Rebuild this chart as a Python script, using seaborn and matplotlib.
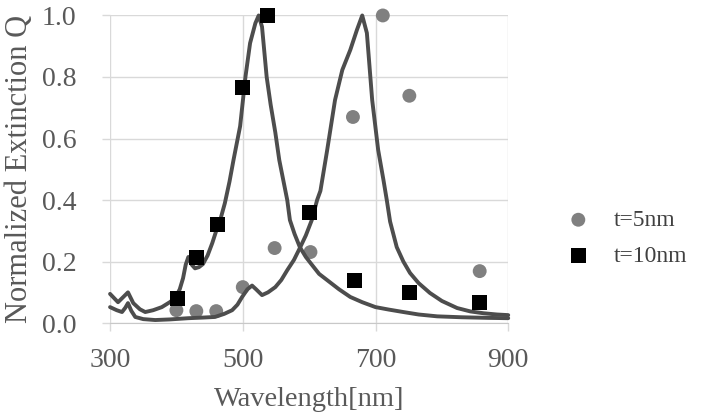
import numpy as np
import pandas as pd
import matplotlib
matplotlib.use("Agg")
import matplotlib.pyplot as plt
import seaborn as sns

# 计算曲线 (t=10nm)，峰值约 525nm
wl_10 = [300, 312, 320, 327, 335, 345, 353, 365, 378, 390, 398, 405, 410, 414, 418,
         423, 428, 434, 440, 447, 454, 460, 466, 473, 480, 486, 496, 500, 504, 511,
         519, 524, 529, 536, 542, 549, 555, 561, 567, 571, 578, 586, 595, 604, 615,
         627, 645, 662, 680, 700, 720, 742, 765, 793, 830, 870, 900]
q_10 = [0.095, 0.068, 0.085, 0.10, 0.065, 0.045, 0.036, 0.042, 0.052, 0.068, 0.081,
        0.11, 0.146, 0.19, 0.215, 0.19, 0.178, 0.182, 0.192, 0.22, 0.26, 0.30, 0.335,
        0.39, 0.46, 0.53, 0.64, 0.72, 0.80, 0.91, 0.975, 1.0, 0.963, 0.80, 0.71, 0.62,
        0.53, 0.465, 0.40, 0.335, 0.29, 0.247, 0.215, 0.19, 0.16, 0.14, 0.11, 0.085,
        0.068, 0.052, 0.044, 0.036, 0.028, 0.022, 0.019, 0.017, 0.016]

# 计算曲线 (t=5nm)，峰值约 680nm
wl_5 = [300, 310, 318, 323, 327, 332, 338, 350, 368, 390, 418, 440, 458, 472, 484,
        492, 499, 507, 514, 520, 529, 538, 549, 558, 567, 577, 586, 595, 604, 612,
        617, 627, 639, 650, 662, 672, 680, 687, 695, 704, 712, 717, 722, 732, 742,
        752, 765, 782, 800, 823, 843, 863, 883, 900]
q_5 = [0.052, 0.042, 0.036, 0.05, 0.065, 0.04, 0.02, 0.013, 0.01, 0.012, 0.016, 0.018,
       0.02, 0.03, 0.042, 0.06, 0.085, 0.11, 0.122, 0.11, 0.091, 0.10, 0.117, 0.14,
       0.172, 0.205, 0.244, 0.285, 0.335, 0.40, 0.43, 0.56, 0.725, 0.823, 0.888, 0.953,
       1.0, 0.943, 0.725, 0.563, 0.465, 0.40, 0.33, 0.247, 0.20, 0.163, 0.13, 0.098,
       0.072, 0.049, 0.038, 0.032, 0.028, 0.026]

# 实验点
exp_wl_5 = [400, 430, 460, 500, 548, 602, 666, 711, 751, 857]
exp_q_5 = [0.042, 0.039, 0.039, 0.117, 0.244, 0.231, 0.67, 1.0, 0.739, 0.169]
exp_wl_10 = [401, 430, 462, 500, 537, 601, 668, 751, 857]
exp_q_10 = [0.081, 0.212, 0.322, 0.767, 1.0, 0.361, 0.137, 0.10, 0.068]

x_ticks = [300, 500, 700, 900]
y_ticks = [0.0, 0.2, 0.4, 0.6, 0.8, 1.0]

sns.set_style("white")
plt.rcParams['font.family'] = ['Liberation Serif', 'DejaVu Serif']

fig = plt.figure(figsize=(7.01, 4.18), dpi=100)
ax = fig.add_axes([0.157, 0.227, 0.568, 0.736])

line_color = '#4d4d4d'
df_5 = pd.DataFrame({'wl': wl_5, 'q': q_5})
df_10 = pd.DataFrame({'wl': wl_10, 'q': q_10})
df_p5 = pd.DataFrame({'wl': exp_wl_5, 'q': exp_q_5})
df_p10 = pd.DataFrame({'wl': exp_wl_10, 'q': exp_q_10})

sns.scatterplot(data=df_p5, x='wl', y='q', ax=ax, marker='o', s=100, color='#808080',
                edgecolor='none', zorder=2, clip_on=False, label='t=5nm')
for d in (df_5, df_10):
    sns.lineplot(data=d, x='wl', y='q', ax=ax, color=line_color, lw=2.8, zorder=3,
                 clip_on=False, legend=False, solid_joinstyle='round',
                 solid_capstyle='round')
sns.scatterplot(data=df_p10, x='wl', y='q', ax=ax, marker='s', s=117, color='black',
                edgecolor='none', zorder=4, clip_on=False, label='t=10nm')

ax.set_xlim(300, 900)
ax.set_ylim(0, 1.0)
ax.set_xticks(x_ticks)
ax.set_yticks(y_ticks)
ax.set_yticklabels([f'{v:.1f}' for v in y_ticks])
ax.grid(True, color='#d9d9d9', lw=1)
for s in ['top', 'right', 'left']:
    ax.spines[s].set_visible(False)
ax.spines['bottom'].set_color('#c8c8c8')
ax.tick_params(axis='both', colors='#d9d9d9', labelcolor='#595959', labelsize=20,
               length=6, width=1)
ax.tick_params(axis='y', pad=18, left=True)
ax.tick_params(axis='x', pad=12, bottom=True)

ax.set_xlabel('Wavelength[nm]', fontsize=20.5, color='#595959', labelpad=10)
ax.set_ylabel('Normalized Extinction Q', fontsize=22, color='#595959', labelpad=6)

handles, labels = ax.get_legend_handles_labels()
ax.get_legend().remove()
fig.legend(handles, labels, loc='center left', bbox_to_anchor=(0.761, 0.43),
           frameon=False, fontsize=17, labelcolor='#404040', handletextpad=0.5,
           labelspacing=0.62, markerscale=1.0)

fig.savefig('out.png', dpi=100)
